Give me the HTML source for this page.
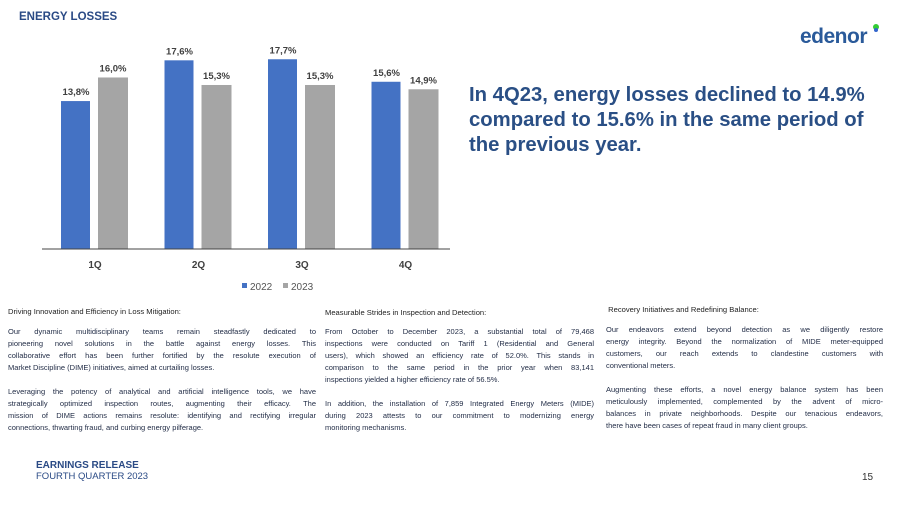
<!DOCTYPE html>
<html><head><meta charset="utf-8"><style>
body{margin:0;width:909px;height:511px;background:#fff;position:relative;overflow:hidden;font-family:"Liberation Sans",sans-serif}
.abs{position:absolute}
.col{position:absolute;font-size:7.5px;color:#1f2a44;line-height:12px}
.col .l{text-align:justify;text-align-last:justify;white-space:nowrap;overflow:hidden}
.col .e{text-align:left;white-space:nowrap}
.h{font-size:7.6px;color:#222}
</style></head><body>
<div class="abs" style="left:19px;top:11px;font-size:11.5px;font-weight:bold;color:#2a4a85">ENERGY LOSSES</div>
<div class="abs" style="left:800px;top:25px;font-size:21px;font-weight:bold;color:#2a5a9a;letter-spacing:-0.5px">edenor<span style="position:absolute;left:73px;top:-1px;width:6px;height:6px;border-radius:50%;background:#3c3"></span><span style="position:absolute;left:74px;top:3px;width:4px;height:4px;border-radius:50%;background:#36c"></span></div>
<div class="abs" style="left:469px;top:83px;font-size:20.3px;font-weight:bold;color:#2a4f85;line-height:25px;width:440px;white-space:nowrap">In 4Q23, energy losses declined to 14.9%<br>compared to 15.6% in the same period of<br>the previous year.</div>

<svg class="abs" style="left:0;top:0" width="460" height="300">
<g id="bars"></g>
<line x1="42" y1="249" x2="450" y2="249" stroke="#444" stroke-width="1"/>
<g id="legend" font-size="10" fill="#555">
<rect x="242" y="283" width="5" height="5" fill="#4472c4"/>
<text x="250" y="290">2022</text>
<rect x="283" y="283" width="5" height="5" fill="#a5a5a5"/>
<text x="291" y="290">2023</text>
</g>
</svg>
<script>
const categories=["1Q","2Q","3Q","4Q"];
const values2022=[13.8,17.6,17.7,15.6];
const values2023=[16.0,15.3,15.3,14.9];
const labels2022=["13,8%","17,6%","17,7%","15,6%"];
const labels2023=["16,0%","15,3%","15,3%","14,9%"];
const NS="http://www.w3.org/2000/svg";
const g=document.getElementById('bars');
const base=249,pxPer=10.72;
function xc(i){return 95+i*103.5;}
function y(v){return base-v*pxPer;}
function mk(t,a){const e=document.createElementNS(NS,t);for(const k in a)e.setAttribute(k,a[k]);g.appendChild(e);return e;}
categories.forEach((c,i)=>{
 const x=xc(i);
 const b1=mk('rect',{x:x-34,y:y(values2022[i]),width:29,height:base-y(values2022[i]),fill:'#4472c4'});
 
 
 const b2=mk('rect',{x:x+3,y:y(values2023[i]),width:30,height:base-y(values2023[i]),fill:'#a5a5a5'});
 
 
 const t1=mk('text',{x:x-19,y:y(values2022[i])-6,'text-anchor':'middle','font-size':'9.5','font-weight':'bold',fill:'#404040'});
 t1.textContent=labels2022[i];
 
 
 const t2=mk('text',{x:x+18,y:y(values2023[i])-6,'text-anchor':'middle','font-size':'9.5','font-weight':'bold',fill:'#404040'});
 t2.textContent=labels2023[i];
 
 
 const tc=mk('text',{x:x,y:268,'text-anchor':'middle','font-size':'10','font-weight':'bold',fill:'#404040'});
 tc.textContent=c;
 
 
});
</script>

<div class="col" style="left:8px;top:306px;width:308px">
<div class="h e">Driving Innovation and Efficiency in Loss Mitigation:</div>
<div style="height:8px"></div>
<div class="l">Our dynamic multidisciplinary teams remain steadfastly dedicated to</div>
<div class="l">pioneering novel solutions in the battle against energy losses. This</div>
<div class="l">collaborative effort has been further fortified by the resolute execution of</div>
<div class="e">Market Discipline (DIME) initiatives, aimed at curtailing losses.</div>
<div style="height:12px"></div>
<div class="l">Leveraging the potency of analytical and artificial intelligence tools, we have</div>
<div class="l">strategically optimized inspection routes, augmenting their efficacy. The</div>
<div class="l">mission of DIME actions remains resolute: identifying and rectifying irregular</div>
<div class="e">connections, thwarting fraud, and curbing energy pilferage.</div>
</div>

<div class="col" style="left:325px;top:307px;width:269px">
<div class="h e">Measurable Strides in Inspection and Detection:</div>
<div style="height:7px"></div>
<div class="l">From October to December 2023, a substantial total of 79,468</div>
<div class="l">inspections were conducted on Tariff 1 (Residential and General</div>
<div class="l">users), which showed an efficiency rate of 52.0%. This stands in</div>
<div class="l">comparison to the same period in the prior year when 83,141</div>
<div class="e">inspections yielded a higher efficiency rate of 56.5%.</div>
<div style="height:12px"></div>
<div class="l">In addition, the installation of 7,859 Integrated Energy Meters (MIDE)</div>
<div class="l">during 2023 attests to our commitment to modernizing energy</div>
<div class="e">monitoring mechanisms.</div>
</div>

<div class="col" style="left:606px;top:304px;width:277px">
<div class="h e">&nbsp;Recovery Initiatives and Redefining Balance:</div>
<div style="height:8px"></div>
<div class="l">Our endeavors extend beyond detection as we diligently restore</div>
<div class="l">energy integrity. Beyond the normalization of MIDE meter-equipped</div>
<div class="l">customers, our reach extends to clandestine customers with</div>
<div class="e">conventional meters.</div>
<div style="height:12px"></div>
<div class="l">Augmenting these efforts, a novel energy balance system has been</div>
<div class="l">meticulously implemented, complemented by the advent of micro-</div>
<div class="l">balances in private neighborhoods. Despite our tenacious endeavors,</div>
<div class="e">there have been cases of repeat fraud in many client groups.</div>
</div>

<div class="abs" style="left:36px;top:460px;font-size:10px;font-weight:bold;color:#2a4a85">EARNINGS RELEASE</div>
<div class="abs" style="left:36px;top:471px;font-size:9.5px;color:#2a4a85">FOURTH QUARTER 2023</div>
<div class="abs" style="left:862px;top:472px;font-size:10px;color:#333">15</div>
</body></html>
